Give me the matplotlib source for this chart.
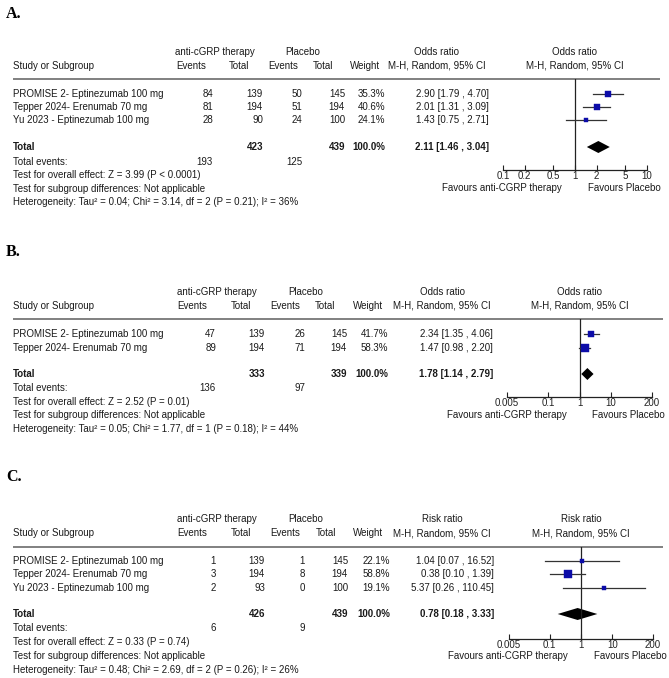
import math
import matplotlib
matplotlib.use("Agg")
import matplotlib.pyplot as plt

plt.rcParams['font.family'] = ['Liberation Sans', 'DejaVu Sans']

# ---------------- DATA ----------------
A_studies = ["PROMISE 2- Eptinezumab 100 mg", "Tepper 2024- Erenumab 70 mg", "Yu 2023 - Eptinezumab 100 mg"]
A_ev_t = [84, 81, 28]
A_tot_t = [139, 194, 90]
A_ev_p = [50, 51, 24]
A_tot_p = [145, 194, 100]
A_weight = [35.3, 40.6, 24.1]
A_est = [2.90, 2.01, 1.43]
A_lo = [1.79, 1.31, 0.75]
A_hi = [4.70, 3.09, 2.71]
A_total = [423, 439]
A_total_events = [193, 125]
A_pooled = [2.11, 1.46, 3.04]
A_ticks = [0.1, 0.2, 0.5, 1, 2, 5, 10]
A_ticklabels = ["0.1", "0.2", "0.5", "1", "2", "5", "10"]
A_measure = "Odds ratio"
A_tests = ["Test for overall effect: Z = 3.99 (P < 0.0001)",
           "Test for subgroup differences: Not applicable",
           "Heterogeneity: Tau\u00b2 = 0.04; Chi\u00b2 = 3.14, df = 2 (P = 0.21); I\u00b2 = 36%"]

B_studies = ["PROMISE 2- Eptinezumab 100 mg", "Tepper 2024- Erenumab 70 mg"]
B_ev_t = [47, 89]
B_tot_t = [139, 194]
B_ev_p = [26, 71]
B_tot_p = [145, 194]
B_weight = [41.7, 58.3]
B_est = [2.34, 1.47]
B_lo = [1.35, 0.98]
B_hi = [4.06, 2.20]
B_total = [333, 339]
B_total_events = [136, 97]
B_pooled = [1.78, 1.14, 2.79]
B_ticks = [0.005, 0.1, 1, 10, 200]
B_ticklabels = ["0.005", "0.1", "1", "10", "200"]
B_measure = "Odds ratio"
B_tests = ["Test for overall effect: Z = 2.52 (P = 0.01)",
           "Test for subgroup differences: Not applicable",
           "Heterogeneity: Tau\u00b2 = 0.05; Chi\u00b2 = 1.77, df = 1 (P = 0.18); I\u00b2 = 44%"]

C_studies = ["PROMISE 2- Eptinezumab 100 mg", "Tepper 2024- Erenumab 70 mg", "Yu 2023 - Eptinezumab 100 mg"]
C_ev_t = [1, 3, 2]
C_tot_t = [139, 194, 93]
C_ev_p = [1, 8, 0]
C_tot_p = [145, 194, 100]
C_weight = [22.1, 58.8, 19.1]
C_est = [1.04, 0.38, 5.37]
C_lo = [0.07, 0.10, 0.26]
C_hi = [16.52, 1.39, 110.45]
C_total = [426, 439]
C_total_events = [6, 9]
C_pooled = [0.78, 0.18, 3.33]
C_ticks = [0.005, 0.1, 1, 10, 200]
C_ticklabels = ["0.005", "0.1", "1", "10", "200"]
C_measure = "Risk ratio"
C_tests = ["Test for overall effect: Z = 0.33 (P = 0.74)",
           "Test for subgroup differences: Not applicable",
           "Heterogeneity: Tau\u00b2 = 0.48; Chi\u00b2 = 2.69, df = 2 (P = 0.26); I\u00b2 = 26%"]

# ---------------- LAYOUT (pixels) ----------------
W, H = 669, 678
FS = 7
fig = plt.figure(figsize=(W / 100, H / 100), dpi=100)
ov = fig.add_axes([0, 0, 1, 1])
ov.set_xlim(0, W)
ov.set_ylim(H, 0)
ov.axis('off')

SQUARE_COLOR = '#0c0ca8'
CI_COLOR = '#333333'

panels = [
    dict(letter="A.", studies=A_studies, ev_t=A_ev_t, tot_t=A_tot_t, ev_p=A_ev_p, tot_p=A_tot_p,
         weight=A_weight, est=A_est, lo=A_lo, hi=A_hi, total=A_total, tev=A_total_events,
         pooled=A_pooled, ticks=A_ticks, ticklabels=A_ticklabels, measure=A_measure, tests=A_tests,
         xlim=(0.1, 10), ax_x=(503, 647),
         y=dict(label=14, h1=52, h2=66, line=79, rows=[94, 107, 120], total=147, tev=162,
                tests=[175, 189, 202], axis=170, fav=188),
         cols=dict(ev_t=213, tot_t=263, ev_p=302, tot_p=345, w=385, ci=489),
         hcols=dict(grp_t=215, grp_p=303, ev_t=191, tot_t=239, ev_p=283, tot_p=323, w=365, ci=437),
         line_end=660),
    dict(letter="B.", studies=B_studies, ev_t=B_ev_t, tot_t=B_tot_t, ev_p=B_ev_p, tot_p=B_tot_p,
         weight=B_weight, est=B_est, lo=B_lo, hi=B_hi, total=B_total, tev=B_total_events,
         pooled=B_pooled, ticks=B_ticks, ticklabels=B_ticklabels, measure=B_measure, tests=B_tests,
         xlim=(0.005, 200), ax_x=(507, 652),
         y=dict(label=252, h1=292, h2=306, line=319, rows=[334, 348], total=374, tev=388,
                tests=[402, 415, 429], axis=397, fav=415),
         cols=dict(ev_t=216, tot_t=265, ev_p=305, tot_p=347, w=388, ci=493),
         hcols=dict(grp_t=217, grp_p=306, ev_t=192, tot_t=241, ev_p=285, tot_p=325, w=368, ci=442),
         line_end=663),
    dict(letter="C.", studies=C_studies, ev_t=C_ev_t, tot_t=C_tot_t, ev_p=C_ev_p, tot_p=C_tot_p,
         weight=C_weight, est=C_est, lo=C_lo, hi=C_hi, total=C_total, tev=C_total_events,
         pooled=C_pooled, ticks=C_ticks, ticklabels=C_ticklabels, measure=C_measure, tests=C_tests,
         xlim=(0.005, 200), ax_x=(509, 653),
         y=dict(label=477, h1=519, h2=533, line=547, rows=[561, 574, 588], total=614, tev=628,
                tests=[642, 656, 670], axis=639, fav=656),
         cols=dict(ev_t=216, tot_t=265, ev_p=305, tot_p=348, w=390, ci=494),
         hcols=dict(grp_t=217, grp_p=306, ev_t=192, tot_t=241, ev_p=285, tot_p=326, w=368, ci=442),
         line_end=663),
]

TXT = '#1a1a1a'


def t(x, y, s, ha='left', weight='normal', size=FS, **kw):
    ov.text(x, y, s, ha=ha, va='center', fontsize=size, fontweight=weight, color=TXT, **kw)


for p in panels:
    y = p['y']
    c = p['cols']
    hc = p['hcols']
    # panel letter
    ov.text(6, y['label'], p['letter'], ha='left', va='center', fontsize=11.5,
            fontweight='bold', family='Liberation Serif', color='black')
    # headers
    t(hc['grp_t'], y['h1'], "anti-cGRP therapy", ha='center')
    t(hc['grp_p'], y['h1'], "Placebo", ha='center')
    t(hc['ci'], y['h1'], p['measure'], ha='center')
    t(13, y['h2'], "Study or Subgroup")
    t(hc['ev_t'], y['h2'], "Events", ha='center')
    t(hc['tot_t'], y['h2'], "Total", ha='center')
    t(hc['ev_p'], y['h2'], "Events", ha='center')
    t(hc['tot_p'], y['h2'], "Total", ha='center')
    t(hc['w'], y['h2'], "Weight", ha='center')
    t(hc['ci'], y['h2'], "M-H, Random, 95% CI", ha='center')
    ov.plot([13, p['line_end']], [y['line'], y['line']], color='#808080', lw=1.4,
            solid_capstyle='butt')

    # study rows
    for i, name in enumerate(p['studies']):
        ry = y['rows'][i]
        t(13, ry, name)
        t(c['ev_t'], ry, str(p['ev_t'][i]), ha='right')
        t(c['tot_t'], ry, str(p['tot_t'][i]), ha='right')
        t(c['ev_p'], ry, str(p['ev_p'][i]), ha='right')
        t(c['tot_p'], ry, str(p['tot_p'][i]), ha='right')
        t(c['w'], ry, f"{p['weight'][i]:.1f}%", ha='right')
        t(c['ci'], ry, f"{p['est'][i]:.2f} [{p['lo'][i]:.2f} , {p['hi'][i]:.2f}]", ha='right')

    # total rows
    t(13, y['total'], "Total", weight='bold')
    t(c['tot_t'], y['total'], str(p['total'][0]), ha='right', weight='bold')
    t(c['tot_p'], y['total'], str(p['total'][1]), ha='right', weight='bold')
    t(c['w'], y['total'], "100.0%", ha='right', weight='bold')
    pe, pl, ph = p['pooled']
    t(c['ci'], y['total'], f"{pe:.2f} [{pl:.2f} , {ph:.2f}]", ha='right', weight='bold')
    t(13, y['tev'], "Total events:")
    t(c['ev_t'], y['tev'], str(p['tev'][0]), ha='right')
    t(c['ev_p'], y['tev'], str(p['tev'][1]), ha='right')
    for s, ty in zip(p['tests'], y['tests']):
        t(13, ty, s)

    # forest axes
    x0, x1 = p['ax_x']
    top, bot = y['line'], y['axis']
    ax = fig.add_axes([x0 / W, 1 - bot / H, (x1 - x0) / W, (bot - top) / H])
    ax.set_xscale('log')
    ax.set_xlim(*p['xlim'])
    ax.set_ylim(bot, top)
    ax.patch.set_alpha(0)
    for sp in ['top', 'left', 'right']:
        ax.spines[sp].set_visible(False)
    ax.spines['bottom'].set_color('#222222')
    ax.spines['bottom'].set_linewidth(0.9)
    ax.set_yticks([])
    ax.set_xticks(p['ticks'])
    ax.set_xticklabels(p['ticklabels'])
    ax.xaxis.set_minor_locator(matplotlib.ticker.NullLocator())
    ax.tick_params(axis='x', direction='in', length=3.5, width=0.8, pad=1.0,
                   labelsize=FS, colors='#222222')
    ax.axvline(1, color='#222222', lw=0.9)
    # study CI lines and squares
    for i in range(len(p['studies'])):
        ry = y['rows'][i]
        ax.plot([p['lo'][i], p['hi'][i]], [ry, ry], color=CI_COLOR, lw=0.9)
        side_px = 1.5 + 0.11 * p['weight'][i]
        ax.plot([p['est'][i]], [ry], marker='s', ms=side_px * 0.72,
                color=SQUARE_COLOR, mec=SQUARE_COLOR, mew=0.3)
    # pooled diamond
    yt = y['total']
    hh = 6
    ax.fill([pl, pe, ph, pe], [yt, yt - hh, yt, yt + hh], color='black', lw=0)

    # plot headers and favours labels
    xl, xr = p['xlim']
    x_one = x0 + (x1 - x0) * (0 - math.log10(xl)) / (math.log10(xr) - math.log10(xl))
    t(x_one, y['h1'], p['measure'], ha='center')
    t(x_one, y['h2'], "M-H, Random, 95% CI", ha='center')
    t(x_one - 13, y['fav'], "Favours anti-CGRP therapy", ha='right')
    t(x_one + 13, y['fav'], "Favours Placebo", ha='left')

fig.savefig("out.png", dpi=100)
